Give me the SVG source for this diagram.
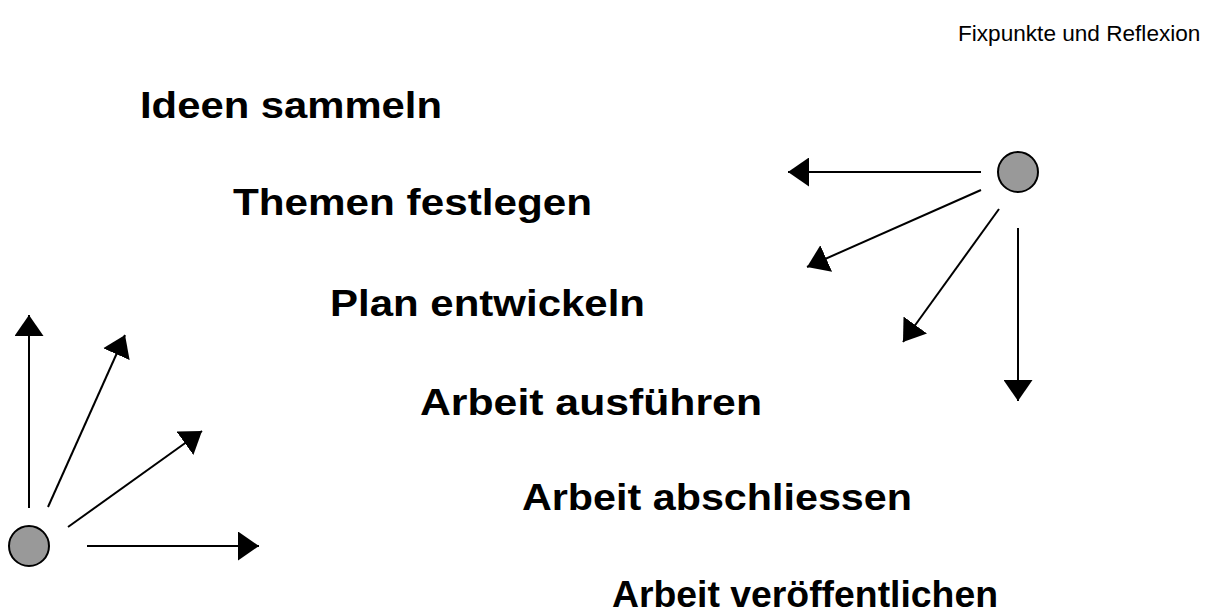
<svg xmlns="http://www.w3.org/2000/svg" width="1215" height="613" viewBox="0 0 1215 613">
<style>
.step{font-family:"Liberation Sans",Arial,sans-serif;font-weight:bold;font-size:37px;fill:#000}
.hdr{font-family:"Liberation Sans",Arial,sans-serif;font-size:22.6px;fill:#000}
.ar{stroke:#000;stroke-width:2;fill:none;marker-end:url(#ah)}
.dot{fill:#999999;stroke:#000;stroke-width:2}
</style>
<defs>
<marker id="ah" markerUnits="userSpaceOnUse" markerWidth="21" markerHeight="29" refX="21" refY="14.5" orient="auto">
<path d="M0,0 L21,14.5 L0,29 z" fill="#000"/>
</marker>
</defs>
<rect width="1215" height="613" fill="#fff"/>
<g id="header"><text class="hdr" x="958" y="41">Fixpunkte und Reflexion</text></g>
<g id="step1"><text class="step" x="140" y="118" textLength="302" lengthAdjust="spacingAndGlyphs">Ideen sammeln</text></g>
<g id="step2"><text class="step" x="233" y="215" textLength="359" lengthAdjust="spacingAndGlyphs">Themen festlegen</text></g>
<g id="step3"><text class="step" x="330" y="316" textLength="315" lengthAdjust="spacingAndGlyphs">Plan entwickeln</text></g>
<g id="step4"><text class="step" x="420" y="415" textLength="342" lengthAdjust="spacingAndGlyphs">Arbeit ausführen</text></g>
<g id="step5"><text class="step" x="522" y="510" textLength="390" lengthAdjust="spacingAndGlyphs">Arbeit abschliessen</text></g>
<g id="step6"><text class="step" x="612" y="607" textLength="386" lengthAdjust="spacingAndGlyphs">Arbeit veröffentlichen</text></g>
<g id="dot-right"><circle class="dot" cx="1018" cy="172" r="20"/></g>
<g id="dot-left"><circle class="dot" cx="29" cy="546" r="20"/></g>
<g id="connectors">
<line class="ar" x1="981" y1="172" x2="788" y2="172"/>
<line class="ar" x1="981" y1="190" x2="807" y2="267"/>
<line class="ar" x1="999" y1="209" x2="903" y2="342"/>
<line class="ar" x1="1018" y1="228" x2="1018" y2="401"/>
<line class="ar" x1="29" y1="508" x2="29" y2="315"/>
<line class="ar" x1="48" y1="507" x2="125" y2="335"/>
<line class="ar" x1="68" y1="527" x2="202" y2="431"/>
<line class="ar" x1="87" y1="546" x2="259" y2="546"/>
</g>
</svg>
